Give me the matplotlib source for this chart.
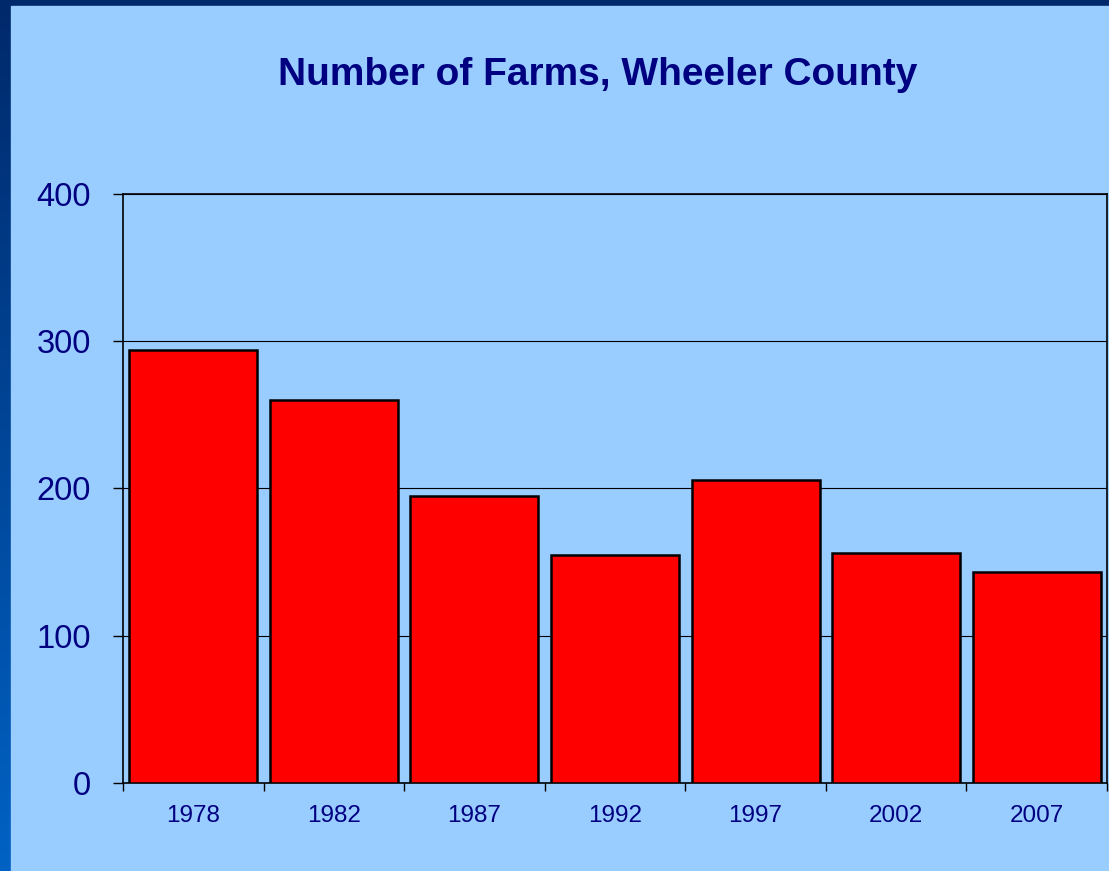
import matplotlib.pyplot as plt
import numpy as np
from matplotlib.patches import Rectangle

years = ['1978', '1982', '1987', '1992', '1997', '2002', '2007']
farms = [294, 260, 195, 155, 206, 156, 143]
y_ticks = [0, 100, 200, 300, 400]

navy = '#000080'
plt.rcParams['font.family'] = ['Liberation Sans', 'DejaVu Sans']

fig = plt.figure(figsize=(11.09, 8.71), dpi=100)

# background: dark gradient border + light blue panel
bg = fig.add_axes([0, 0, 1, 1], zorder=-10)
grad = np.linspace(0, 1, 256).reshape(-1, 1)
bg.imshow(grad, aspect='auto', extent=[0, 1, 0, 1], origin='upper',
          cmap=plt.matplotlib.colors.LinearSegmentedColormap.from_list(
              'b', ['#00296b', '#0062c4']))
bg.add_patch(Rectangle((11 / 1109, 0), 1, 1 - 6 / 871, color='#99ccff'))
bg.set_xlim(0, 1)
bg.set_ylim(0, 1)
bg.axis('off')

ax = fig.add_axes([123 / 1109, 1 - 783 / 871, 984 / 1109, 589 / 871])
ax.set_facecolor('#99ccff')
x = np.arange(len(years))
ax.bar(x, farms, width=0.91, color='#ff0000', edgecolor='black',
       linewidth=1.8, zorder=3)
ax.set_xlim(-0.5, len(years) - 0.5)
ax.set_ylim(0, 400)
ax.set_yticks(y_ticks)
ax.set_yticklabels([str(v) for v in y_ticks], fontsize=23.5, color=navy)
ax.set_xticks(x)
ax.set_xticklabels(years, fontsize=17.5, color=navy)
ax.tick_params(axis='x', which='major', length=0, pad=16)
ax.set_xticks(np.arange(-0.5, len(years)), minor=True)
ax.tick_params(axis='x', which='minor', length=6, width=1, color='black')
ax.tick_params(axis='y', length=7, width=1, color='black', pad=16)
ax.grid(axis='y', color='black', linewidth=0.8, zorder=0)
for s in ax.spines.values():
    s.set_color('black')
    s.set_linewidth(1.2)

fig.text(598 / 1109, 1 - 75 / 871, 'Number of Farms, Wheeler County',
         ha='center', va='center', fontsize=28, fontweight='bold', color=navy)

fig.savefig('out.png', dpi=100)
